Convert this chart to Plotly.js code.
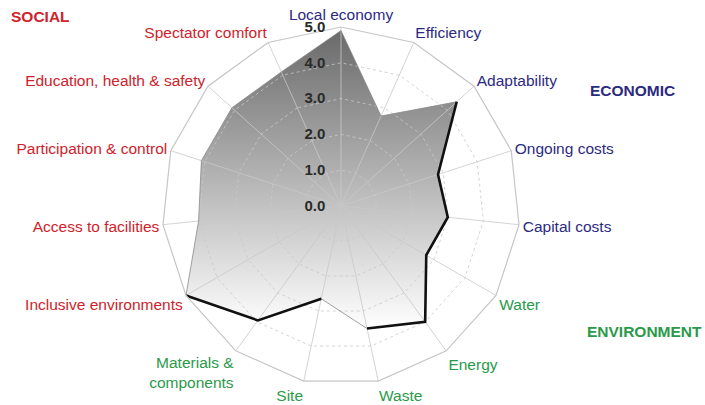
<!DOCTYPE html>
<html><head><meta charset="utf-8">
<script src="https://cdn.plot.ly/plotly-3.0.1.min.js"></script>
<style>html,body{margin:0;padding:0;background:#fff}#chart{width:705px;height:405px}</style>
</head><body><div id="chart"></div>
<script>
const categories = ["Local economy","Efficiency","Adaptability","Ongoing costs","Capital costs",
  "Water","Energy","Waste","Site","Materials & components",
  "Inclusive environments","Access to facilities","Participation & control","Education, health & safety","Spectator comfort"];
const categoryLabels = ["Local economy","Efficiency","Adaptability","Ongoing costs","Capital costs",
  "Water","Energy","Waste","Site","Materials &amp;<br>components",
  "Inclusive environments","Access to facilities","Participation &amp; control","Education, health &amp; safety","Spectator comfort"];
const categoryGroup = ["ECONOMIC","ECONOMIC","ECONOMIC","ECONOMIC","ECONOMIC",
  "ENVIRONMENT","ENVIRONMENT","ENVIRONMENT","ENVIRONMENT","ENVIRONMENT",
  "SOCIAL","SOCIAL","SOCIAL","SOCIAL","SOCIAL"];
const scores = [4.9,2.75,4.35,2.85,3.0,2.75,4.0,3.5,2.65,3.95,5.0,4.0,4.1,4.1,4.1];
const radialTicks = [0,1,2,3,4,5];
const groupNames = ["SOCIAL","ECONOMIC","ENVIRONMENT"];
const outlinedRuns = [["Adaptability","Waste"],["Site","Inclusive environments"]];

const groupColor = {SOCIAL:"#d0222b", ECONOMIC:"#2c2a80", ENVIRONMENT:"#2a9a4a"};
const font = "Liberation Sans, Arial, Helvetica, sans-serif";

function colored(label, g){
  return label.split("<br>").map(p => '<span style="color:'+groupColor[g]+'">'+p+'</span>').join("<br>");
}
const tickText = categoryLabels.map((l,i)=>colored(l, categoryGroup[i]));

// gradient-filled area: same scores on a square cartesian subplot laid over the polar one
const N = categories.length;
const fillX = scores.map((r,i)=> r*Math.sin(2*Math.PI*i/N));
const fillY = scores.map((r,i)=> r*Math.cos(2*Math.PI*i/N));

const traces = [{
  type:"scatter", x: fillX, y: fillY, xaxis:"x", yaxis:"y", mode:"lines",
  fill:"toself", fillcolor:"#bbbbbb",
  fillgradient:{type:"vertical", colorscale:[[0,"#ffffff"],[1,"#6a6a6a"]]},
  line:{width:0}, hoverinfo:"skip", showlegend:false
},{
  type:"scatterpolar", r: scores.concat([scores[0]]), theta: categories.concat([categories[0]]), mode:"lines",
  line:{color:"#8a8a8a", width:0.8}, hoverinfo:"skip", showlegend:false
}];
outlinedRuns.forEach(([a,b])=>{
  const ia = categories.indexOf(a), ib = categories.indexOf(b);
  traces.push({type:"scatterpolar", r: scores.slice(ia, ib+1), theta: categories.slice(ia, ib+1),
    mode:"lines", line:{color:"#111", width:2.6}, hoverinfo:"skip", showlegend:false});
});

const cx = 341, cy = 206, R = 179, W = 705, H = 405;
const domX = [(cx-R)/W,(cx+R)/W], domY = [(H-cy-R)/H,(H-cy+R)/H];
const headingPos = {SOCIAL:[40,16], ECONOMIC:[632,90], ENVIRONMENT:[644,331]};
const annotations = groupNames.map(g => ({
  text:"<b>"+g+"</b>", xref:"paper", yref:"paper", x: headingPos[g][0]/W, y: 1-headingPos[g][1]/H,
  xanchor:"center", yanchor:"middle", showarrow:false, font:{family:font, size:15.5, color:groupColor[g]}
}));

const hiddenAxis = {range:[-5,5], visible:false, showgrid:false, zeroline:false, fixedrange:true};
const layout = {
  width:W, height:H, margin:{l:0,r:0,t:0,b:0}, paper_bgcolor:"#fff", plot_bgcolor:"rgba(0,0,0,0)", showlegend:false,
  font:{family:font},
  annotations,
  xaxis:Object.assign({domain:domX}, hiddenAxis),
  yaxis:Object.assign({domain:domY}, hiddenAxis),
  polar:{
    domain:{x:domX, y:domY},
    bgcolor:"rgba(0,0,0,0)", gridshape:"linear",
    angularaxis:{type:"category", direction:"clockwise", rotation:90, categoryorder:"array", categoryarray:categories,
      tickmode:"array", tickvals:categories, ticktext:tickText, ticks:"",
      tickfont:{family:font, size:15.5}, showline:true, linecolor:"#c6c6c6", linewidth:1.2,
      gridcolor:"rgba(200,200,200,0.8)", gridwidth:1},
    radialaxis:{range:[0,5], angle:90, side:"counterclockwise", tickmode:"array", tickvals:radialTicks,
      tickformat:".1f", ticks:"outside", ticklen:10, tickcolor:"rgba(0,0,0,0)", showline:false,
      gridcolor:"rgba(200,200,200,0.8)", griddash:"dot", gridwidth:1,
      tickfont:{family:font, size:15, color:"#2a2a2a", weight:"bold"}, tickangle:90, layer:"above traces"}
  }
};
Plotly.newPlot("chart", traces, layout, {displayModeBar:false, staticPlot:true});
</script></body></html>
